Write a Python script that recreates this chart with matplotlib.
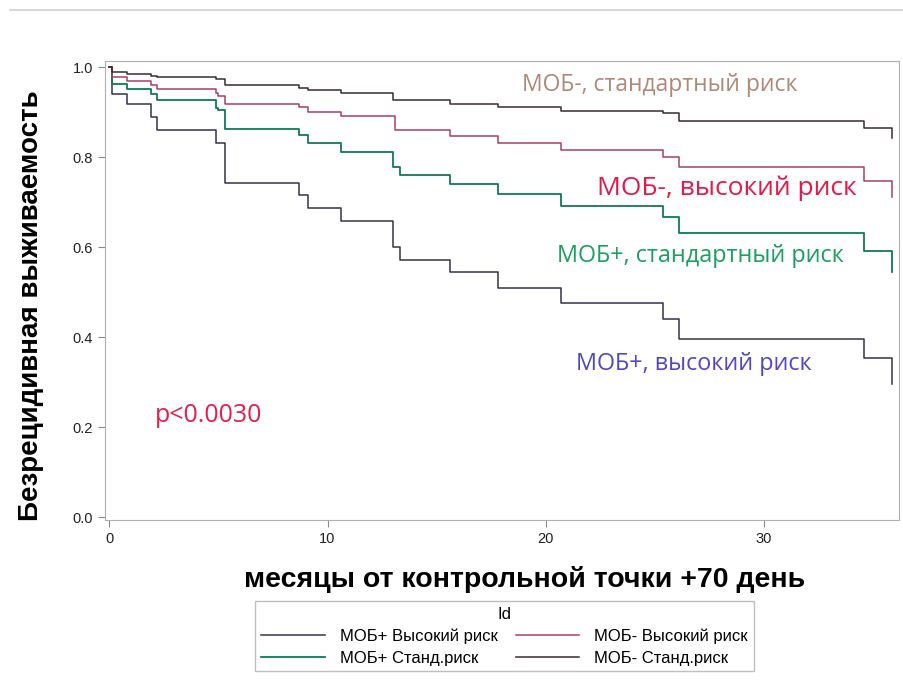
import matplotlib.pyplot as plt
from matplotlib.lines import Line2D

# шаги Каплана-Мейера
t_neg_std = [0, 0.1, 0.8, 1.9, 2.2, 4.9, 5.3, 8.7, 9.1, 10.6, 13.0, 15.6, 17.8, 20.7, 25.4, 26.1, 34.6, 35.9]
s_neg_std = [1.0, 0.99, 0.985, 0.982, 0.979, 0.974, 0.962, 0.955, 0.95, 0.944, 0.927, 0.919, 0.913, 0.904, 0.899, 0.882, 0.866, 0.844]

t_neg_high = [0, 0.1, 0.8, 1.9, 2.2, 4.9, 5.0, 5.3, 8.7, 9.1, 10.6, 13.1, 15.6, 17.8, 20.7, 25.4, 26.1, 34.6, 35.9]
s_neg_high = [1.0, 0.978, 0.97, 0.962, 0.953, 0.944, 0.937, 0.918, 0.913, 0.9, 0.891, 0.86, 0.847, 0.832, 0.816, 0.8, 0.778, 0.747, 0.712]

t_pos_std = [0, 0.1, 0.8, 1.9, 2.2, 4.9, 5.0, 5.3, 8.7, 9.1, 10.6, 13.0, 13.3, 15.6, 17.8, 20.7, 25.4, 26.1, 34.6, 35.9]
s_pos_std = [1.0, 0.964, 0.953, 0.94, 0.927, 0.91, 0.905, 0.862, 0.849, 0.832, 0.813, 0.778, 0.76, 0.74, 0.718, 0.693, 0.667, 0.632, 0.593, 0.545]

t_pos_high = [0, 0.1, 0.8, 1.9, 2.2, 4.9, 5.3, 8.7, 9.1, 10.6, 13.0, 13.3, 15.6, 17.8, 20.7, 25.4, 26.1, 34.6, 35.9]
s_pos_high = [1.0, 0.94, 0.918, 0.89, 0.86, 0.832, 0.743, 0.716, 0.687, 0.658, 0.6, 0.571, 0.545, 0.51, 0.476, 0.44, 0.397, 0.354, 0.296]

legend_labels = ['МОБ+ Высокий риск', 'МОБ+ Станд.риск', 'МОБ- Высокий риск', 'МОБ- Станд.риск']

fig = plt.figure(figsize=(9.04, 6.84), dpi=100)
ax = fig.add_axes([0.1162, 0.2398, 0.8783, 0.6715])

# тонкая серая линия сверху, как на скриншоте
fig.add_artist(Line2D([0.011, 1.0], [0.986, 0.986], transform=fig.transFigure,
                      color='#d0d0d0', lw=1.2))

l1, = ax.step(t_pos_high, s_pos_high, where='post', color='#33334a', lw=1.1)
l2, = ax.step(t_pos_std, s_pos_std, where='post', color='#0f7a55', lw=1.3)
l3, = ax.step(t_neg_high, s_neg_high, where='post', color='#a8405e', lw=1.1)
l4, = ax.step(t_neg_std, s_neg_std, where='post', color='#3a2c2c', lw=1.1)

ax.set_xlim(-0.2, 36.2)
ax.set_ylim(-0.006, 1.015)
ax.set_xticks([0, 10, 20, 30])
ax.set_yticks([0.0, 0.2, 0.4, 0.6, 0.8, 1.0])
ax.set_yticklabels(['0.0', '0.2', '0.4', '0.6', '0.8', '1.0'])
for s in ax.spines.values():
    s.set_color('#b0b0b0')
ax.tick_params(colors='#888888', labelcolor='#222222', labelsize=10.5, length=5)
for lab in ax.get_xticklabels() + ax.get_yticklabels():
    lab.set_family('Liberation Sans')

ax.set_ylabel('Безрецидивная выживаемость', fontsize=20, fontweight='bold',
              family='Liberation Sans')
ax.set_xlabel('месяцы от контрольной точки +70 день', fontsize=20.5, fontweight='bold',
              family='Liberation Sans')
ax.yaxis.set_label_coords(-0.077, 0.467)
ax.xaxis.set_label_coords(0.528, -0.1)

ax.text(18.9, 0.961, 'МОБ-, стандартный риск', color='#b08878', fontsize=16.5, family='Open Sans', va='center')
ax.text(22.36, 0.732, 'МОБ-, высокий риск', color='#e8194a', fontsize=19, family='Open Sans', va='center')
ax.text(20.53, 0.581, 'МОБ+, стандартный риск', color='#1aa060', fontsize=16.8, family='Open Sans', va='center')
ax.text(21.4, 0.341, 'МОБ+, высокий риск', color='#5048c8', fontsize=16.8, family='Open Sans', va='center')
ax.text(2.09, 0.227, 'p<0.0030', color='#e81e4a', fontsize=18, family='Open Sans', va='center')

leg = fig.legend([l1, l2, l3, l4], legend_labels, title='Id', ncol=2,
                 loc='center', bbox_to_anchor=(0.558, 0.07),
                 fancybox=False, edgecolor='#b0b0b0', handlelength=3.8,
                 columnspacing=1.1, handletextpad=0.9, labelspacing=0.4,
                 borderpad=0.35, borderaxespad=0.3,
                 prop={'family': 'Liberation Sans', 'size': 12})
leg.get_title().set_fontsize(12)
leg.get_title().set_family('Liberation Sans')
leg.get_frame().set_linewidth(1.0)

fig.savefig('out.png', dpi=100)
